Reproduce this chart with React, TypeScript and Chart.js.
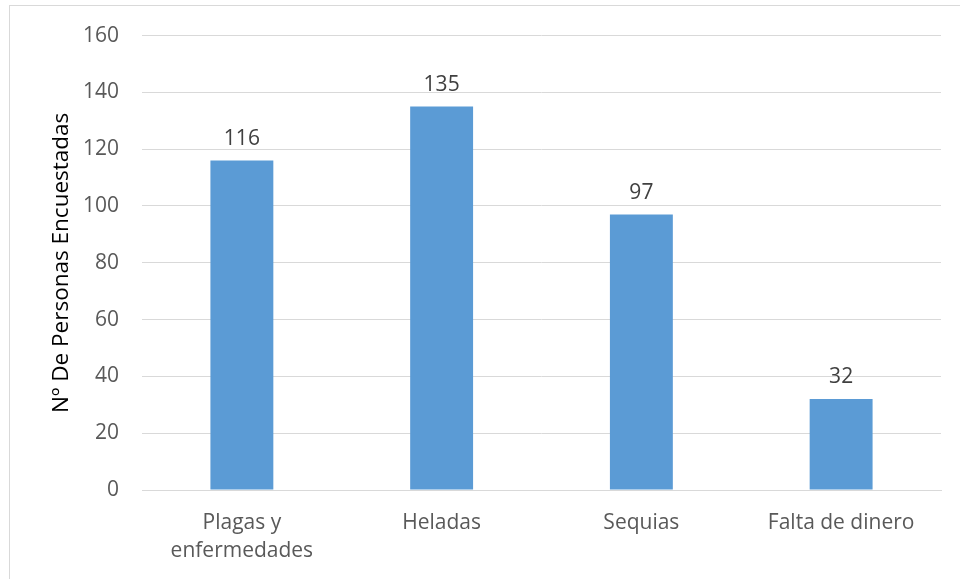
import React, { useEffect, useRef } from "react";
import { Chart, registerables } from "chart.js";

Chart.register(...registerables);

const categories: (string | string[])[] = [["Plagas y", "enfermedades"], "Heladas", "Sequias", "Falta de dinero"];
const values: number[] = [116, 135, 97, 32];
const yTitle = "Nº De Personas Encuestadas";
const yMin = 0;
const yMax = 160;
const yStep = 20;

const FONT = "'Open Sans', 'Noto Sans', sans-serif";

const dataLabels = {
  id: "dataLabels",
  afterDatasetsDraw(chart: any) {
    const { ctx } = chart;
    const meta = chart.getDatasetMeta(0);
    ctx.save();
    ctx.fillStyle = "#404040";
    ctx.font = `21px ${FONT}`;
    ctx.textAlign = "center";
    ctx.textBaseline = "alphabetic";
    meta.data.forEach((bar: any, i: number) => {
      ctx.fillText(String(values[i]), bar.x, bar.y - 16);
    });
    ctx.restore();
  },
};

export default function App() {
  const ref = useRef<HTMLCanvasElement | null>(null);
  useEffect(() => {
    document.body.style.margin = "0";
    if (!ref.current) return;
    const chart = new Chart(ref.current, {
      type: "bar",
      data: {
        labels: categories,
        datasets: [
          {
            data: values,
            backgroundColor: "#5B9BD5",
            borderWidth: 0,
            categoryPercentage: 1,
            barPercentage: 0.315,
          },
        ],
      },
      options: {
        responsive: false,
        animation: false,
        maintainAspectRatio: false,
        layout: { padding: { left: 0, right: 19, top: 34, bottom: 0 } },
        plugins: {
          legend: { display: false },
          tooltip: { enabled: false },
        },
        scales: {
          x: {
            grid: { display: false, drawTicks: false },
            border: { color: "#d9d9d9", width: 1 },
            ticks: {
              color: "#595959",
              font: { family: FONT, size: 21, lineHeight: 1.33 },
              padding: 19,
              maxRotation: 0,
              autoSkip: false,
            },
            afterFit(scale: any) {
              scale.height = 89;
            },
          },
          y: {
            min: yMin,
            max: yMax,
            grid: { color: "#d9d9d9", lineWidth: 1, drawTicks: false },
            border: { display: false },
            ticks: {
              stepSize: yStep,
              color: "#595959",
              font: { family: FONT, size: 21 },
              padding: 23,
            },
            title: {
              display: true,
              text: yTitle,
              color: "#000000",
              font: { family: FONT, size: 22.5 },
              padding: { top: 48, bottom: 0 },
            },
            afterFit(scale: any) {
              scale.width = 142;
            },
          },
        },
      },
      plugins: [dataLabels],
    });
    return () => chart.destroy();
  }, []);
  return (
    <div style={{ position: "relative", width: 960, height: 579, overflow: "hidden", background: "#fff" }}>
      <div
        style={{
          position: "absolute",
          left: 9,
          top: 5,
          width: 960,
          height: 600,
          border: "1px solid #d9d9d9",
          boxSizing: "border-box",
        }}
      />
      <canvas ref={ref} width={960} height={579} style={{ position: "absolute", left: 0, top: 0 }} />
    </div>
  );
}
